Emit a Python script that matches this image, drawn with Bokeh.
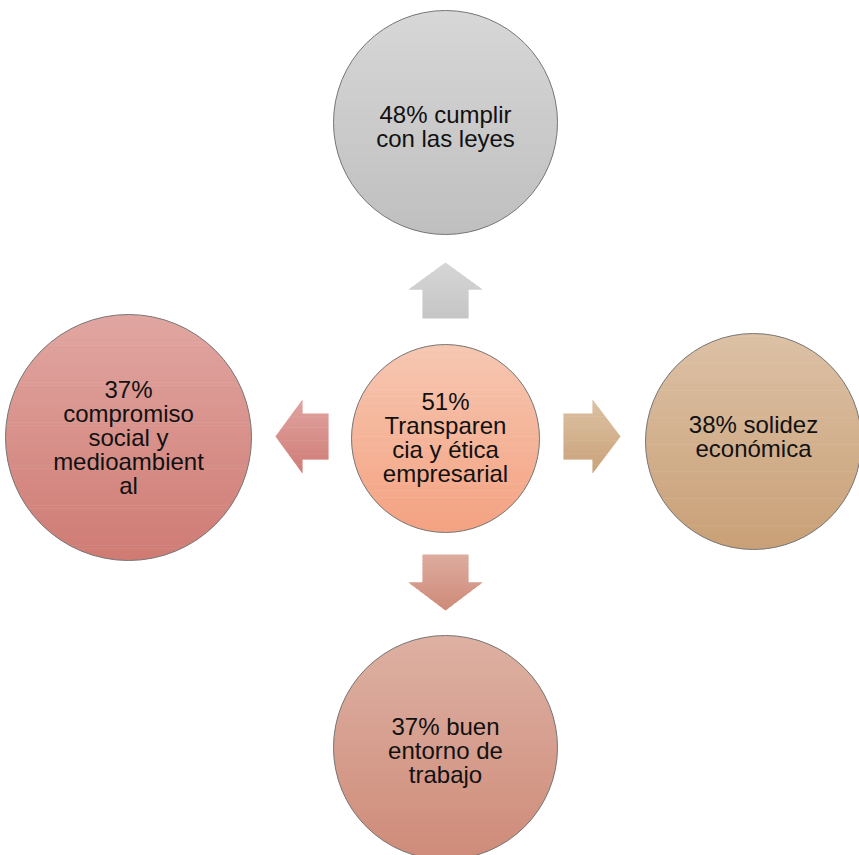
import numpy as np
from bokeh.plotting import figure
from bokeh.models import Range1d, ColumnDataSource
from bokeh.embed import file_html
from bokeh.resources import INLINE
from bokeh.core.properties import value

# ---------------- data ----------------
percentages = [51, 48, 38, 37, 37]
topics = ["Transparencia y ética empresarial", "cumplir con las leyes",
          "solidez económica", "buen entorno de trabajo",
          "compromiso social y medioambiental"]
labels = ["51%\nTransparen\ncia y ética\nempresarial",
          "48% cumplir\ncon las leyes",
          "38% solidez\neconómica",
          "37% buen\nentorno de\ntrabajo",
          "37%\ncompromiso\nsocial y\nmedioambient\nal"]

# ---------------- layout / style ----------------
centers_x = [445, 445, 753, 445, 128]
centers_y = [438, 122, 441, 747, 437]
text_y = [437, 126, 436, 750, 437]
radii = [94, 112, 108, 112, 123]
grad_top = ["#f6c7b2", "#d7d7d7", "#dcc1a5", "#ddb1a3", "#e1a6a1"]
grad_bot = ["#f4a281", "#bfbfbf", "#c9a077", "#cf8b79", "#cf7b74"]

# arrows: up, right, down, left
arrow_top = ["#d6d6d6", "#dcc1a3", "#dcac9f", "#e0a4a0"]
arrow_bot = ["#c5c5c5", "#c9a279", "#cf8a78", "#cf7b76"]


def arrow_poly(direction, c, start, base, tip, hw_head=37, hw_shaft=23):
    pts_local = [(tip, 0), (base, hw_head), (base, hw_shaft), (start, hw_shaft),
                 (start, -hw_shaft), (base, -hw_shaft), (base, -hw_head)]
    if direction in ("up", "down"):
        return [(c + w, a) for a, w in pts_local]
    return [(a, c + w) for a, w in pts_local]


arrows = [
    arrow_poly("up", 445, 318, 289, 262),
    arrow_poly("right", 436, 563, 592, 620),
    arrow_poly("down", 445, 554, 582, 610),
    arrow_poly("left", 436, 328, 302, 275),
]


def hex2rgb(h):
    h = h.lstrip("#")
    return np.array([int(h[i:i + 2], 16) for i in (0, 2, 4)], dtype=float)


def lerp_color(c0, c1, t):
    a, b = hex2rgb(c0), hex2rgb(c1)
    r = a + (b - a) * t
    return "#%02x%02x%02x" % tuple(int(round(v)) for v in r)


def clip(poly, keep, inter):
    out = []
    n = len(poly)
    for i in range(n):
        cur = poly[i]
        prev = poly[i - 1]
        if keep(cur):
            if not keep(prev):
                out.append(inter(prev, cur))
            out.append(cur)
        elif keep(prev):
            out.append(inter(prev, cur))
    return out


def ix(yc):
    def f(a, b):
        t = (yc - a[1]) / (b[1] - a[1])
        return (a[0] + t * (b[0] - a[0]), yc)
    return f


def clip_band(poly, y0, y1):
    p = clip(poly, lambda q: q[1] >= y0, ix(y0))
    if not p:
        return p
    return clip(p, lambda q: q[1] <= y1, ix(y1))


def strips(poly, ctop, cbot, n=60):
    ys = [q[1] for q in poly]
    ymin, ymax = min(ys), max(ys)
    xs_out, ys_out, cols = [], [], []
    h = (ymax - ymin) / n
    for i in range(n):
        y0 = ymin + i * h
        y1 = y0 + h + 0.6
        band = clip_band(poly, y0, y1)
        if len(band) < 3:
            continue
        xs_out.append([q[0] for q in band])
        ys_out.append([q[1] for q in band])
        cols.append(lerp_color(ctop, cbot, (i + 0.5) / n))
    return xs_out, ys_out, cols


p = figure(width=859, height=855, x_range=Range1d(0, 859), y_range=Range1d(855, 0),
           output_backend="svg", toolbar_location=None, min_border=0)
p.axis.visible = False
p.grid.visible = False
p.outline_line_color = None
p.background_fill_color = "white"

for poly, ct, cb in zip(arrows, arrow_top, arrow_bot):
    xs, ys, cols = strips(poly, ct, cb, n=40)
    p.patches(xs=xs, ys=ys, fill_color=cols, line_color=None)

theta = np.linspace(0, 2 * np.pi, 241)[:-1]
for cx, cy, r, ct, cb in zip(centers_x, centers_y, radii, grad_top, grad_bot):
    poly = list(zip(cx + r * np.cos(theta), cy + r * np.sin(theta)))
    xs, ys, cols = strips(poly, ct, cb, n=80)
    p.patches(xs=xs, ys=ys, fill_color=cols, line_color=None)

src = ColumnDataSource(dict(x=centers_x, y=centers_y, ty=text_y, r=radii, label=labels,
                            pct=percentages, topic=topics))
p.circle(x="x", y="y", radius="r", source=src, fill_color=None,
         line_color="#777777", line_width=1)

p.text(x="x", y="ty", text="label", source=src, text_align="center",
       text_baseline="middle", text_font=value("Liberation Sans"),
       text_font_size="24px", text_line_height=0.88, text_color="#111111")

open("out.html", "w").write(file_html(p, INLINE))
